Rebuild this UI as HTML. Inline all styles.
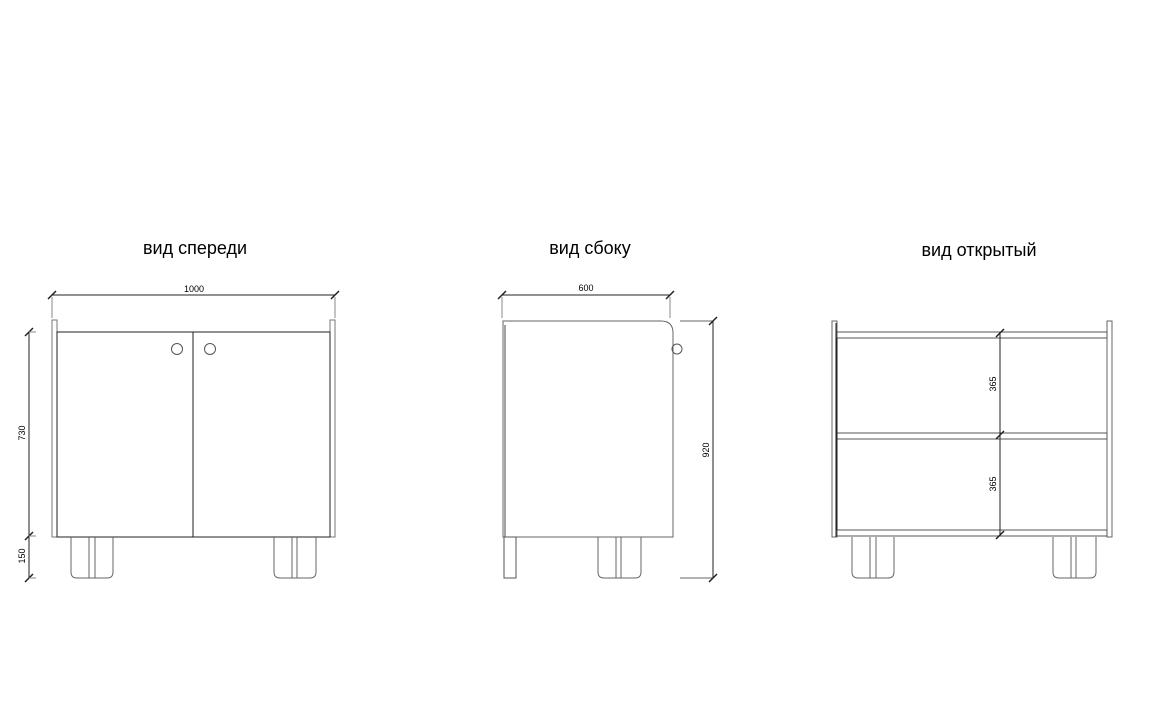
<!DOCTYPE html>
<html><head><meta charset="utf-8"><style>html,body{margin:0;padding:0;background:#fff}svg{display:block}</style></head>
<body>
<svg width="1152" height="724" viewBox="0 0 1152 724" xmlns="http://www.w3.org/2000/svg" font-family="Liberation Sans, DejaVu Sans, sans-serif">
<rect width="1152" height="724" fill="#fff"/>
<g font-size="18" text-anchor="middle" fill="#000">
<text x="195" y="254">вид спереди</text>
<text x="590" y="254">вид сбоку</text>
<text x="979" y="256">вид открытый</text>
</g>
<g fill="none" stroke="#222" stroke-width="1">
<!-- FRONT -->
<line x1="52" y1="295" x2="335" y2="295"/>
<line x1="48" y1="299" x2="56" y2="291" stroke-width="1.5"/><line x1="331" y1="299" x2="339" y2="291" stroke-width="1.5"/>
<line x1="52" y1="297" x2="52" y2="318" stroke="#888"/><line x1="335" y1="297" x2="335" y2="318" stroke="#888"/>
<rect x="52" y="320" width="5" height="217" stroke="#777"/>
<rect x="330" y="320" width="5" height="217" stroke="#777"/>
<rect x="57" y="332" width="273" height="205"/>
<line x1="193" y1="332" x2="193" y2="537"/>
<circle cx="177" cy="349" r="5.5" stroke="#555"/><circle cx="210" cy="349" r="5.5" stroke="#555"/>
<path d="M71 537 V572 Q71 578 77 578 H107 Q113 578 113 572 V537" stroke="#666"/>
<line x1="89" y1="537" x2="89" y2="578" stroke="#666"/><line x1="95" y1="537" x2="95" y2="578" stroke="#666"/>
<path d="M274 537 V572 Q274 578 280 578 H310 Q316 578 316 572 V537" stroke="#666"/>
<line x1="292" y1="537" x2="292" y2="578" stroke="#666"/><line x1="297" y1="537" x2="297" y2="578" stroke="#666"/>
<line x1="29" y1="332" x2="29" y2="578"/>
<line x1="25" y1="336" x2="33" y2="328" stroke-width="1.5"/><line x1="25" y1="540" x2="33" y2="532" stroke-width="1.5"/><line x1="25" y1="582" x2="33" y2="574" stroke-width="1.5"/>
<line x1="29" y1="332" x2="36" y2="332" stroke="#888"/><line x1="29" y1="536" x2="36" y2="536" stroke="#888"/><line x1="29" y1="578" x2="36" y2="578" stroke="#888"/>
<!-- SIDE -->
<line x1="502" y1="295" x2="670" y2="295"/>
<line x1="498" y1="299" x2="506" y2="291" stroke-width="1.5"/><line x1="666" y1="299" x2="674" y2="291" stroke-width="1.5"/>
<line x1="502" y1="297" x2="502" y2="318" stroke="#888"/><line x1="670" y1="297" x2="670" y2="318" stroke="#888"/>
<path d="M503 321 H661 Q673 321 673 333 V537 H503 Z" stroke="#666"/>
<line x1="505" y1="325" x2="505" y2="537" stroke="#444"/>
<circle cx="677" cy="349" r="5" stroke="#555"/>
<rect x="504" y="537" width="12" height="41" stroke="#555"/>
<path d="M598 537 V572 Q598 578 604 578 H635 Q641 578 641 572 V537" stroke="#666"/>
<line x1="616" y1="537" x2="616" y2="578" stroke="#666"/><line x1="621" y1="537" x2="621" y2="578" stroke="#666"/>
<line x1="713" y1="321" x2="713" y2="578"/>
<line x1="680" y1="321" x2="713" y2="321" stroke="#666"/><line x1="680" y1="578" x2="713" y2="578" stroke="#666"/>
<line x1="709" y1="325" x2="717" y2="317" stroke-width="1.5"/><line x1="709" y1="582" x2="717" y2="574" stroke-width="1.5"/>
<!-- OPEN -->
<rect x="832" y="321" width="5" height="216" stroke="#666"/>
<line x1="836" y1="323" x2="836" y2="537"/>
<rect x="1107" y="321" width="5" height="216" stroke="#666"/>
<rect x="837" y="332" width="270" height="6" stroke="#555"/>
<rect x="837" y="433" width="270" height="6" stroke="#555"/>
<rect x="837" y="530" width="270" height="6" stroke="#555"/>
<line x1="837" y1="338" x2="837" y2="530"/>
<line x1="1000" y1="332" x2="1000" y2="535"/>
<line x1="996" y1="337" x2="1004" y2="329" stroke-width="1.5"/><line x1="996" y1="439" x2="1004" y2="431" stroke-width="1.5"/><line x1="996" y1="539" x2="1004" y2="531" stroke-width="1.5"/>
<path d="M852 537 V572 Q852 578 858 578 H888 Q894 578 894 572 V537" stroke="#666"/>
<line x1="870" y1="537" x2="870" y2="578" stroke="#666"/><line x1="876" y1="537" x2="876" y2="578" stroke="#666"/>
<path d="M1053 537 V572 Q1053 578 1059 578 H1090 Q1096 578 1096 572 V537" stroke="#666"/>
<line x1="1071" y1="537" x2="1071" y2="578" stroke="#666"/><line x1="1076" y1="537" x2="1076" y2="578" stroke="#666"/>
</g>
<g font-size="9" fill="#000" text-anchor="middle">
<text x="194" y="292">1000</text>
<text x="586" y="291">600</text>
<text transform="translate(25,433) rotate(-90)">730</text>
<text transform="translate(25,556) rotate(-90)">150</text>
<text transform="translate(709,450) rotate(-90)">920</text>
<text transform="translate(996,384) rotate(-90)">365</text>
<text transform="translate(996,484) rotate(-90)">365</text>
</g>
</svg>
</body></html>
